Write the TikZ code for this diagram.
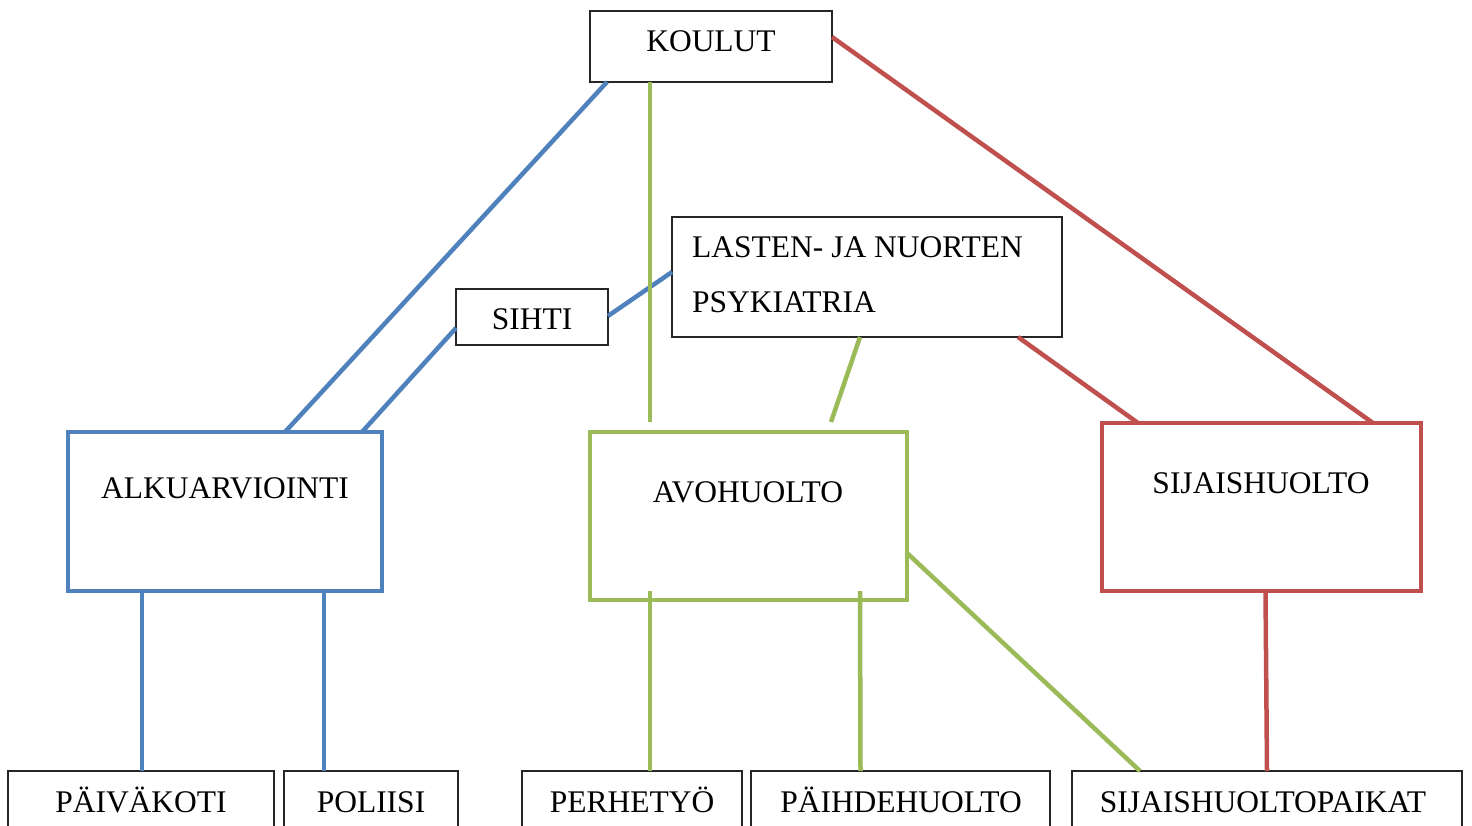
\documentclass[tikz,border=0pt]{standalone}
\usepackage{fontspec}
\setmainfont{Liberation Serif}
\definecolor{cblue}{HTML}{4F81BD}
\definecolor{cgreen}{HTML}{9BBB59}
\definecolor{cred}{HTML}{C0504D}
\tikzset{
  thinbox/.style={draw=black!85, line width=1.3pt, rectangle, inner sep=0pt, outer sep=0pt},
  thickbox/.style={rectangle, line width=4.5pt, inner sep=0pt, outer sep=0pt},
  lbl/.style={anchor=base, inner sep=0pt, font=\fontsize{31.5}{31.5}\selectfont},
  conn/.style={line width=4.5pt},
}
\begin{document}
\begin{tikzpicture}[x=1pt,y=-1pt]
\useasboundingbox (0,0) rectangle (1472,825);
\clip (0,0) rectangle (1472,825);
% boxes
\node[thinbox, minimum width=242pt, minimum height=71pt] (koulut) at (711,46.5) {};
\node[thinbox, minimum width=390pt, minimum height=120pt] (lasten) at (867,277) {};
\node[thinbox, minimum width=152pt, minimum height=56pt] (sihti) at (532,317) {};
\node[thickbox, draw=cblue, minimum width=314pt, minimum height=159pt] (alk) at (225,511.5) {};
\node[thickbox, draw=cgreen, minimum width=317pt, minimum height=168pt] (avo) at (748.5,516) {};
\node[thickbox, draw=cred, minimum width=319pt, minimum height=168pt] (sij) at (1261.5,507) {};
\node[thinbox, minimum width=266pt, minimum height=80pt] (paiv) at (141,811) {};
\node[thinbox, minimum width=174pt, minimum height=80pt] (pol) at (371,811) {};
\node[thinbox, minimum width=220pt, minimum height=80pt] (perh) at (632,811) {};
\node[thinbox, minimum width=299pt, minimum height=80pt] (paih) at (900.5,811) {};
\node[thinbox, minimum width=390pt, minimum height=80pt] (sijp) at (1267,811) {};
% labels
\node[lbl] (koulut-t) at (711,51) {KOULUT};
\node[lbl, anchor=base west] (lasten-t1) at (692,257) {LASTEN- JA NUORTEN};
\node[lbl, anchor=base west] (lasten-t2) at (692,312) {PSYKIATRIA};
\node[lbl] (sihti-t) at (532,329) {SIHTI};
\node[lbl] (alk-t) at (225,498) {ALKUARVIOINTI};
\node[lbl] (avo-t) at (748,502) {AVOHUOLTO};
\node[lbl] (sij-t) at (1261,493) {SIJAISHUOLTO};
\node[lbl] (paiv-t) at (141,812) {PÄIVÄKOTI};
\node[lbl] (pol-t) at (371,812) {POLIISI};
\node[lbl] (perh-t) at (632,812) {PERHETYÖ};
\node[lbl] (paih-t) at (901,812) {PÄIHDEHUOLTO};
\node[lbl] (sijp-t) at (1263,812) {SIJAISHUOLTOPAIKAT};
% blue connectors
\draw[conn, cblue] ([xshift=17pt]koulut.south west) -- ([xshift=217pt]alk.north west);
\draw[conn, cblue] ([yshift=1pt]sihti.east) -- ([yshift=5pt]lasten.west);
\draw[conn, cblue] ([yshift=-11pt]sihti.west) -- ([xshift=294pt]alk.north west);
\draw[conn, cblue] ([xshift=74pt]alk.south west) -- ([xshift=1pt]paiv.north);
\draw[conn, cblue] ([xshift=256pt]alk.south west) -- ([xshift=-47pt]pol.north);
% green connectors
\draw[conn, cgreen] ([xshift=60pt]koulut.south west) -- ([xshift=60pt,yshift=10pt]avo.north west);
\draw[conn, cgreen] ([xshift=188pt]lasten.south west) -- ([xshift=241pt,yshift=10pt]avo.north west);
\draw[conn, cgreen] ([xshift=60pt,yshift=9pt]avo.south west) -- ([xshift=18pt]perh.north);
\draw[conn, cgreen] ([xshift=270pt,yshift=9pt]avo.south west) -- ([xshift=-40pt]paih.north);
\draw[conn, cgreen] ([yshift=-37pt]avo.east) -- ([xshift=68pt]sijp.north west);
% red connectors
\draw[conn, cred] ([yshift=9.5pt]koulut.east) -- ([xshift=-48pt]sij.north east);
\draw[conn, cred] ([xshift=346pt]lasten.south west) -- ([xshift=36pt]sij.north west);
\draw[conn, cred] ([xshift=4pt]sij.south) -- (sijp.north);
\end{tikzpicture}
\end{document}
